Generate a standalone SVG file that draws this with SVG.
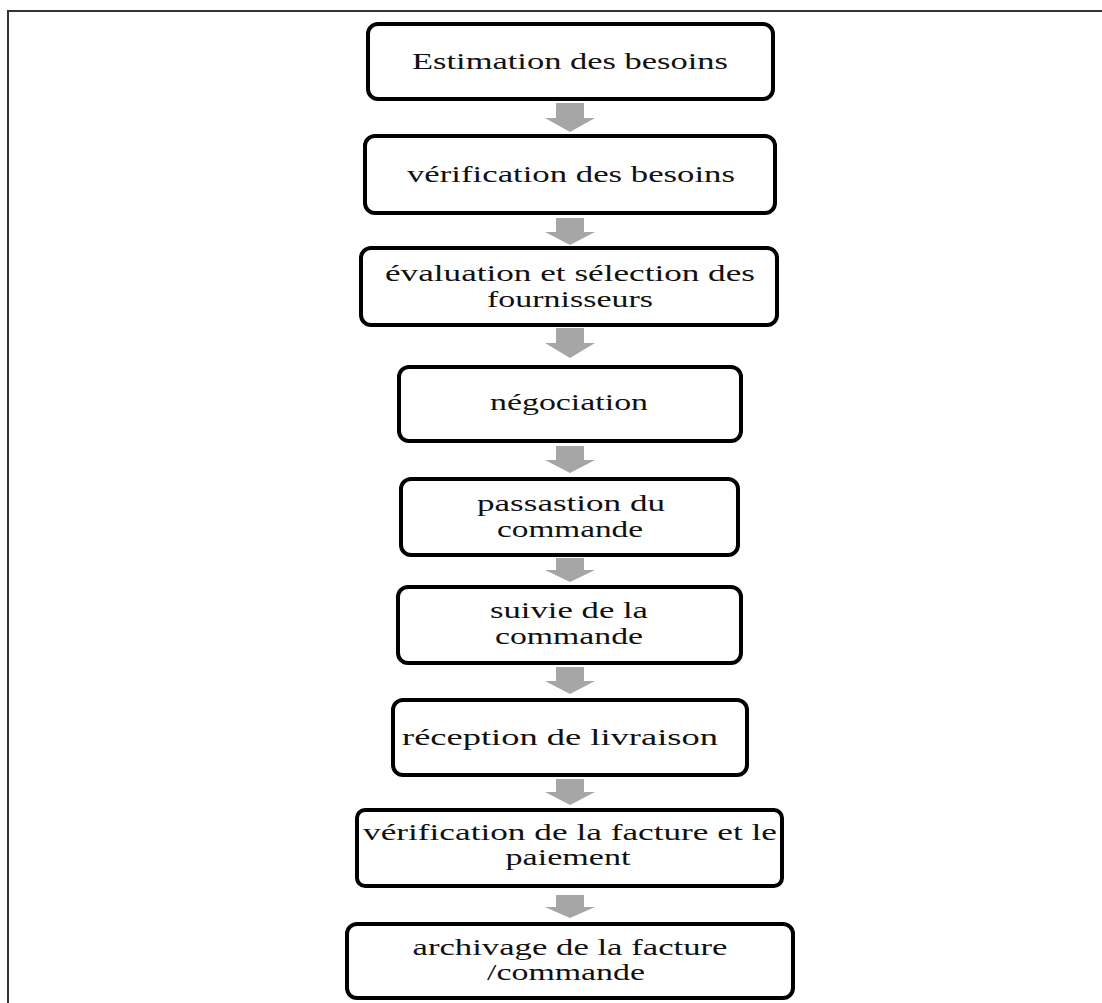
<svg xmlns="http://www.w3.org/2000/svg" width="1102" height="1003" viewBox="0 0 1102 1003">
<style>
.box{fill:#fff;stroke:#000;stroke-width:4}
.t{font-family:"Liberation Serif","Times New Roman",serif;font-size:23px;fill:#111;text-anchor:middle}
.arr{fill:#a6a6a6}
.frame{stroke:#333;stroke-width:2;fill:none}
</style>
<rect width="1102" height="1003" fill="#fff"/>
<path class="frame" d="M1102 11 H8 V1003"/>
<g id="connectors">
<polygon class="arr" points="556,103 584,103 584,118 595,118 570,132 545,118 556,118"/>
<polygon class="arr" points="556,218 584,218 584,232 595,232 570,245 545,232 556,232"/>
<polygon class="arr" points="556,328 584,328 584,343 595,343 570,358 545,343 556,343"/>
<polygon class="arr" points="556,446 584,446 584,460 595,460 570,473 545,460 556,460"/>
<polygon class="arr" points="556,558 584,558 584,570 595,570 570,582 545,570 556,570"/>
<polygon class="arr" points="556,667 584,667 584,681 595,681 570,694 545,681 556,681"/>
<polygon class="arr" points="556,779 584,779 584,792 595,792 570,805 545,792 556,792"/>
<polygon class="arr" points="556,895 584,895 584,907 595,907 570,918 545,907 556,907"/>
</g>
<g id="n1"><rect class="box" x="368" y="24" width="405" height="75" rx="10"/>
<text class="t" x="570" y="69" textLength="316" lengthAdjust="spacingAndGlyphs">Estimation  des besoins</text></g>
<g id="n2"><rect class="box" x="365" y="136" width="410" height="77" rx="10"/>
<text class="t" x="571" y="182" textLength="328" lengthAdjust="spacingAndGlyphs">vérification  des besoins</text></g>
<g id="n3"><rect class="box" x="361" y="248" width="416" height="77" rx="10"/>
<text class="t" x="570" y="281" textLength="370" lengthAdjust="spacingAndGlyphs">évaluation  et sélection  des</text>
<text class="t" x="570" y="306.5" textLength="166" lengthAdjust="spacingAndGlyphs">fournisseurs</text></g>
<g id="n4"><rect class="box" x="399" y="367" width="342" height="74" rx="10"/>
<text class="t" x="569" y="410" textLength="158" lengthAdjust="spacingAndGlyphs">négociation</text></g>
<g id="n5"><rect class="box" x="401" y="479" width="337" height="76" rx="10"/>
<text class="t" x="571" y="511" textLength="188" lengthAdjust="spacingAndGlyphs">passastion  du</text>
<text class="t" x="570" y="536.5" textLength="146" lengthAdjust="spacingAndGlyphs">commande</text></g>
<g id="n6"><rect class="box" x="398" y="587" width="343" height="76" rx="10"/>
<text class="t" x="569" y="618" textLength="158" lengthAdjust="spacingAndGlyphs">suivie de la</text>
<text class="t" x="569" y="643.5" textLength="148" lengthAdjust="spacingAndGlyphs">commande</text></g>
<g id="n7"><rect class="box" x="393" y="700" width="354" height="75" rx="10"/>
<text class="t" x="560" y="745" textLength="316" lengthAdjust="spacingAndGlyphs">réception  de livraison</text></g>
<g id="n8"><rect class="box" x="357" y="810" width="425" height="76" rx="8"/>
<text class="t" x="570" y="839.5" textLength="414" lengthAdjust="spacingAndGlyphs">vérification  de la facture et le</text>
<text class="t" x="568" y="865" textLength="125" lengthAdjust="spacingAndGlyphs">paiement</text></g>
<g id="n9"><rect class="box" x="347" y="924" width="446" height="74" rx="10"/>
<text class="t" x="570" y="954.5" textLength="315" lengthAdjust="spacingAndGlyphs">archivage  de la facture</text>
<text class="t" x="566" y="980" textLength="158" lengthAdjust="spacingAndGlyphs">/commande</text></g>
</svg>
